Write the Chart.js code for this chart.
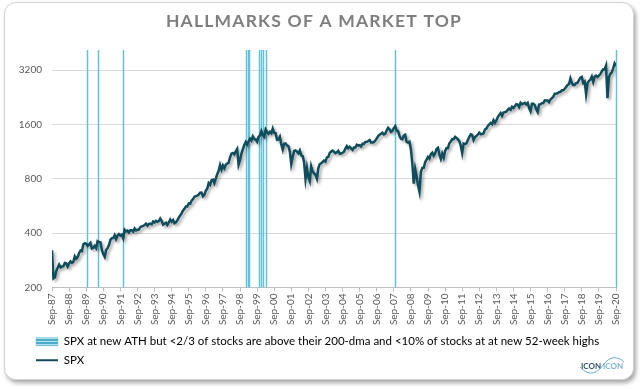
<!DOCTYPE html>
<html>
<head>
<meta charset="utf-8">
<script src="https://cdn.jsdelivr.net/npm/chart.js@4.4.1/dist/chart.umd.min.js"></script>
<style>
html,body{margin:0;padding:0;background:#fff;}
#card{position:absolute;left:4px;top:2px;width:628px;height:376px;border:1px solid #d4d4d4;border-radius:12px;box-shadow:2px 3px 4px rgba(0,0,0,0.35);background:#fff;}
#wrap{position:absolute;left:0;top:0;width:640px;height:389px;}
</style>
</head>
<body>
<div id="card"></div>
<div id="wrap"><canvas id="myChart" width="640" height="389"></canvas></div>
<script>
// x axis labels, one every 12 months starting Sep-87
var yearLabels = ['Sep-87','Sep-88','Sep-89','Sep-90','Sep-91','Sep-92','Sep-93','Sep-94','Sep-95','Sep-96',
  'Sep-97','Sep-98','Sep-99','Sep-00','Sep-01','Sep-02','Sep-03','Sep-04','Sep-05','Sep-06','Sep-07',
  'Sep-08','Sep-09','Sep-10','Sep-11','Sep-12','Sep-13','Sep-14','Sep-15','Sep-16','Sep-17','Sep-18',
  'Sep-19','Sep-20'];
var yTicks = [200, 400, 800, 1600, 3200];

// SPX, monthly from Sep-87 to Sep-20
var spx = [
  321.8, 225, 228, 247.1, //87
  257.1, 267.8, 258.9, 261.3, 262.2, 273.5, 272.0, 261.5, 271.9, 279.0, 273.7, 277.7,
  297.5, 288.9, 294.9, 309.6, 320.5, 318.0, 346.1, 351.5, 349.2, 340.4, 346.0, 353.4,
  329.1, 331.9, 339.9, 330.8, 361.2, 358.0, 356.2, 322.6, 306.1, 295.5, 322.2, 330.2,
  343.9, 367.1, 375.2, 375.4, 389.8, 371.2, 387.8, 395.4, 387.9, 392.5, 375.2, 417.1,
  408.8, 412.7, 403.7, 415.0, 415.4, 408.1, 424.2, 414.0, 417.8, 418.7, 431.4, 435.7,
  438.8, 443.4, 451.7, 440.2, 450.2, 450.5, 448.1, 463.6, 458.9, 467.8, 461.8, 466.5,
  481.6, 467.1, 445.8, 450.9, 456.5, 444.3, 458.3, 475.5, 462.7, 472.4, 453.7, 459.3,
  470.4, 487.4, 500.7, 514.7, 533.4, 544.8, 562.1, 561.9, 584.4, 581.5, 605.4, 615.9,
  636.0, 640.4, 645.5, 654.2, 669.1, 670.6, 640.0, 652.0, 687.3, 705.3, 757.0, 740.7,
  786.2, 790.8, 757.1, 801.3, 848.3, 885.1, 954.3, 899.5, 947.3, 914.6, 955.4, 970.4,
  980.3, 1049.3, 1101.8, 1111.8, 1090.8, 1133.8, 1170, 957.3, 1017.0, 1098.7, 1163.6, 1229.2,
  1279.6, 1238.3, 1286.4, 1335.2, 1301.8, 1372.7, 1328.7, 1320.4, 1282.7, 1362.9, 1388.9, 1469.3,
  1394.5, 1366.4, 1498.6, 1452.4, 1420.6, 1454.6, 1430.8, 1517.7, 1436.5, 1429.4, 1315.0, 1320.3,
  1366.0, 1239.9, 1160.3, 1249.5, 1255.8, 1224.4, 1211.2, 1133.6, 966, 1059.8, 1139.5, 1148.1,
  1130.2, 1106.7, 1147.4, 1076.9, 1067.1, 989.8, 800, 916.1, 815.3, 776, 936.3, 879.8,
  855.7, 841.2, 800, 916.9, 963.6, 974.5, 990.3, 1008.0, 996.0, 1050.7, 1058.2, 1111.9,
  1131.1, 1144.9, 1126.2, 1107.3, 1120.7, 1140.8, 1101.7, 1104.2, 1114.6, 1130.2, 1173.8, 1211.9,
  1181.3, 1203.6, 1180.6, 1156.9, 1191.5, 1191.3, 1234.2, 1220.3, 1228.8, 1207.0, 1249.5, 1248.3,
  1280.1, 1280.7, 1294.9, 1310.6, 1270.1, 1270.2, 1276.7, 1303.8, 1335.9, 1377.9, 1400.6, 1418.3,
  1438.2, 1406.8, 1420.9, 1482.4, 1530.6, 1503.4, 1455.3, 1474.0, 1526.8, 1565, 1481.1, 1468.4,
  1378.6, 1330.6, 1322.7, 1385.6, 1400.4, 1280.0, 1267.4, 1282.8, 1166.4, 968.8, 752, 903.3,
  825.9, 735.1, 677, 872.8, 919.1, 919.3, 987.5, 1020.6, 1057.1, 1036.2, 1095.6, 1115.1,
  1073.9, 1104.5, 1169.4, 1186.7, 1089.4, 1030.7, 1101.6, 1049.3, 1141.2, 1183.3, 1180.6, 1257.6,
  1286.1, 1327.2, 1325.8, 1363.6, 1345.2, 1320.6, 1292.3, 1218.9, 1110, 1253.3, 1247.0, 1257.6,
  1312.4, 1365.7, 1408.5, 1397.9, 1310.3, 1362.2, 1379.3, 1406.6, 1440.7, 1412.2, 1416.2, 1426.2,
  1498.1, 1514.7, 1569.2, 1597.6, 1630.7, 1606.3, 1685.7, 1633.0, 1681.6, 1756.5, 1805.8, 1848.4,
  1782.6, 1859.5, 1872.3, 1884.0, 1923.6, 1960.2, 1930.7, 2003.4, 1972.3, 2018.1, 2067.6, 2058.9,
  1995.0, 2104.5, 2067.9, 2085.5, 2107.4, 2063.1, 2103.8, 1972.2, 1890, 2079.4, 2080.4, 2043.9,
  1940.2, 1870, 2059.7, 2065.3, 2097.0, 2098.9, 2173.6, 2171.0, 2168.3, 2126.2, 2198.8, 2238.8,
  2278.9, 2363.6, 2362.7, 2384.2, 2411.8, 2423.4, 2470.3, 2471.7, 2519.4, 2575.3, 2647.6, 2673.6,
  2872, 2713.8, 2640.9, 2648.1, 2705.3, 2718.4, 2816.3, 2901.5, 2930, 2711.7, 2760.2, 2351,
  2704.1, 2784.5, 2834.4, 2945.8, 2752.1, 2941.8, 2980.4, 2926.5, 2976.7, 3037.6, 3141.0, 3230.8,
  3225.5, 3386, 2237, 2912.4, 3044.3, 3100.3, 3271.1, 3480, 3363.0 //20
];

// days flagged: new ATH with weak breadth
var athDates = ['1989-09-12','1990-05-04','1991-10-20',
  '1998-12-27','1999-02-09','1999-03-21',
  '1999-10-01','1999-11-13','1999-12-25',
  '2000-03-01','2007-10-05','2020-09-01'];

var legendText = ['SPX at new ATH but <2/3 of stocks are above their 200-dma and <10% of stocks at at new 52-week highs', 'SPX'];

var spxColor = '#0f4c5c';
var athColor = '#62c0da';
var font = 'Lato';

function monthsFromStart(d) //months since Sep-87
{
  var p = d.split('-');
  return (p[0] - 1987) * 12 + (p[1] - 9) + (p[2] - 1) / 30;
}

var points = spx.map(function(v, i) { return {x: i, y: v}; });

// striped box for the legend
var patCanvas = document.createElement('canvas');
patCanvas.width = 4; patCanvas.height = 3;
var pc = patCanvas.getContext('2d');
pc.fillStyle = '#4bacc6'; pc.fillRect(0, 0, 4, 2);
pc.fillStyle = '#b4e0ec'; pc.fillRect(0, 2, 4, 1);
var stripes = pc.createPattern(patCanvas, 'repeat');

var athLines = {
  id: 'athLines',
  beforeDatasetsDraw: function(chart) {
    var ctx = chart.ctx, xs = chart.scales.x, a = chart.chartArea;
    ctx.save();
    ctx.strokeStyle = athColor;
    ctx.lineWidth = 1.5;
    athDates.forEach(function(d) {
      var px = Math.round(xs.getPixelForValue(monthsFromStart(d))) + 0.5;
      ctx.beginPath();
      ctx.moveTo(px, a.top);
      ctx.lineTo(px, a.bottom);
      ctx.stroke();
    });
    ctx.restore();
  }
};

var lineShadow = {
  id: 'lineShadow',
  beforeDatasetDraw: function(chart, args) {
    if (args.index !== 0) return;
    var c = chart.ctx;
    c.save();
    c.shadowColor = 'rgba(0,0,0,0.35)';
    c.shadowBlur = 3;
    c.shadowOffsetX = 2;
    c.shadowOffsetY = 2;
  },
  afterDatasetDraw: function(chart, args) {
    if (args.index !== 0) return;
    chart.ctx.restore();
  }
};

var spacedTitle = {
  id: 'spacedTitle',
  afterInit: function(chart) {
    var tb = chart.titleBlock;
    if (!tb) return;
    var orig = tb.draw.bind(tb);
    tb.draw = function() {
      var c = chart.ctx;
      c.save();
      c.letterSpacing = '1.2px';
      orig();
      c.restore();
    };
  }
};

// move legend in line with the card's inner margin
var legendShift = {
  id: 'legendShift',
  afterLayout: function(chart) {
    if (chart.legend) chart.legend.left = 29;
  }
};

var logo = {
  id: 'logo',
  afterDraw: function(chart) {
    var c = chart.ctx;
    c.save();
    c.font = 'bold 8px ' + font;
    c.textBaseline = 'alphabetic';
    c.fillStyle = '#2f5466';
    c.fillText('ICON', 581, 369);
    c.fillStyle = '#7cb4cc';
    c.fillText('ICON', 603, 369);
    c.strokeStyle = '#5fb0c8';
    c.lineWidth = 1;
    c.beginPath();
    c.moveTo(580, 367);
    c.bezierCurveTo(590, 378, 598, 372, 604, 364);
    c.bezierCurveTo(610, 356, 618, 356, 624, 362);
    c.stroke();
    c.restore();
  }
};

var ctx = document.getElementById('myChart');
var myChart = new Chart(ctx, {
  type: 'line',
  data: {
    datasets: [{
      label: 'SPX',
      data: points,
      borderColor: spxColor,
      borderWidth: 2.5,
      pointRadius: 0,
      tension: 0,
      fill: false
    }]
  },
  options: {
    responsive: false,
    animation: false,
    layout: {padding: {top: 3, left: 12, right: 24, bottom: 13}},
    plugins: {
      title: {
        display: true,
        text: 'HALLMARKS OF A MARKET TOP',
        color: '#7f7f7f',
        font: {family: font, size: 17.5, weight: 'bold'},
        padding: {top: 8, bottom: 18}
      },
      legend: {
        position: 'bottom',
        align: 'start',
        labels: {
          usePointStyle: true,
          pointStyleWidth: 22,
          boxHeight: 8,
          padding: 7,
          color: '#595959',
          font: {family: font, size: 11.5},
          generateLabels: function() {
            return [
              {text: legendText[0], fillStyle: stripes, strokeStyle: athColor, lineWidth: 0.5, pointStyle: 'rect', hidden: false},
              {text: legendText[1], fillStyle: spxColor, strokeStyle: spxColor, lineWidth: 2, pointStyle: 'line', hidden: false, datasetIndex: 0}
            ];
          }
        }
      },
      tooltip: {enabled: false}
    },
    scales: {
      x: {
        type: 'linear',
        min: 0,
        max: 396,
        afterBuildTicks: function(s) {
          s.ticks = yearLabels.map(function(l, i) { return {value: i * 12}; });
        },
        afterFit: function(s) { s.height = 41.5; },
        ticks: {
          autoSkip: false,
          maxRotation: 90,
          minRotation: 90,
          padding: 2,
          color: '#595959',
          font: {family: font, size: 10},
          callback: function(v, i) { return yearLabels[i]; }
        },
        grid: {drawOnChartArea: false, color: '#bfbfbf', tickLength: 4},
        border: {color: '#bfbfbf'}
      },
      y: {
        type: 'logarithmic',
        min: 200,
        max: 4130,
        afterBuildTicks: function(s) {
          s.ticks = yTicks.map(function(v) { return {value: v}; });
        },
        afterFit: function(s) { s.width = 52 - 12; },
        ticks: {
          padding: 10,
          color: '#595959',
          font: {family: font, size: 10},
          callback: function(v) { return String(v); }
        },
        grid: {color: '#d9d9d9', drawTicks: false},
        border: {display: false}
      }
    }
  },
  plugins: [spacedTitle, legendShift, athLines, lineShadow, logo]
});
</script>
</body>
</html>
